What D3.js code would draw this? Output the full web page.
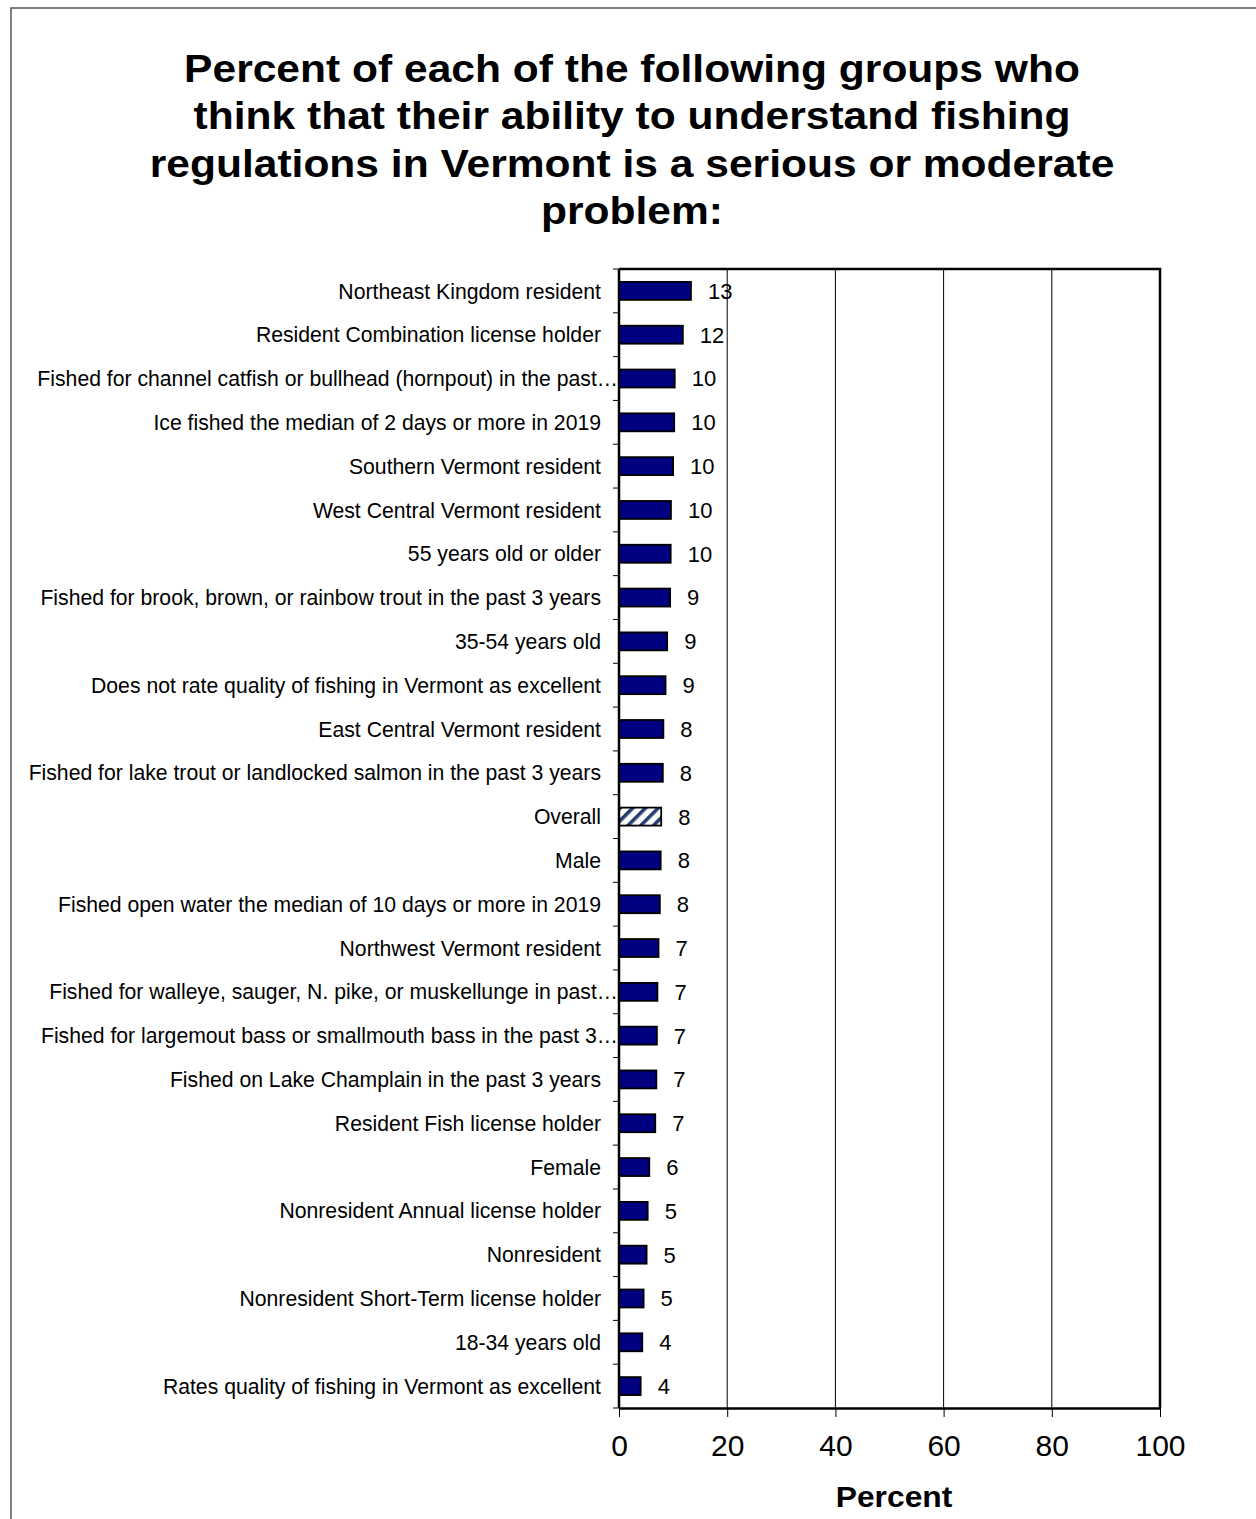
<!DOCTYPE html>
<html>
<head>
<meta charset="utf-8">
<script src="https://cdn.jsdelivr.net/npm/d3@7"></script>
<style>
  html, body { margin: 0; padding: 0; background: #fff; }
  svg { display: block; font-family: "Liberation Sans", Arial, sans-serif; }
</style>
</head>
<body>
<svg id="chart" width="1256" height="1519"></svg>
<script>
// Group labels, top to bottom (long ones are cut off with an ellipsis)
const categories = [
  "Northeast Kingdom resident",
  "Resident Combination license holder",
  "Fished for channel catfish or bullhead (hornpout) in the past\u2026",
  "Ice fished the median of 2 days or more in 2019",
  "Southern Vermont resident",
  "West Central Vermont resident",
  "55 years old or older",
  "Fished for brook, brown, or rainbow trout in the past 3 years",
  "35-54 years old",
  "Does not rate quality of fishing in Vermont as excellent",
  "East Central Vermont resident",
  "Fished for lake trout or landlocked salmon in the past 3 years",
  "Overall",
  "Male",
  "Fished open water the median of 10 days or more in 2019",
  "Northwest Vermont resident",
  "Fished for walleye, sauger, N. pike, or muskellunge in past\u2026",
  "Fished for largemout bass or smallmouth bass in the past 3\u2026",
  "Fished on Lake Champlain in the past 3 years",
  "Resident Fish license holder",
  "Female",
  "Nonresident Annual license holder",
  "Nonresident",
  "Nonresident Short-Term license holder",
  "18-34 years old",
  "Rates quality of fishing in Vermont as excellent"
];

// Percent who see it as a serious or moderate problem
const values = [
  13.3, 11.8, 10.3, 10.2, 10.0, 9.6, 9.55, 9.45, 8.9, 8.6,
  8.2, 8.1, 7.8, 7.7, 7.55, 7.3, 7.1, 7.0, 6.9, 6.7,
  5.6, 5.3, 5.1, 4.55, 4.3, 4.0
];

const xTicks = [0, 20, 40, 60, 80, 100];
const titleLines = [
  "Percent of each of the following groups who",
  "think that their ability to understand fishing",
  "regulations in Vermont is a serious or moderate",
  "problem:"
];
const xAxisTitle = "Percent";
const highlight = "Overall";

const rows = categories.map((c, i) => ({ name: c, value: values[i] }));

const svg = d3.select("#chart");
const plot = { left: 619, right: 1160, top: 269, bottom: 1408 };

// hatch for the overall bar
const defs = svg.append("defs");
const pat = defs.append("pattern")
  .attr("id", "hatch")
  .attr("patternUnits", "userSpaceOnUse")
  .attr("width", 9).attr("height", 9)
  .attr("patternTransform", "rotate(45)");
pat.append("rect").attr("width", 9).attr("height", 9).attr("fill", "#fff");
pat.append("rect").attr("x", 0).attr("width", 3.6).attr("height", 9).attr("fill", "#243f6e");

// outer frame
svg.append("rect")
  .attr("x", 11).attr("y", 8)
  .attr("width", 1300).attr("height", 1600)
  .attr("fill", "none").attr("stroke", "#555").attr("stroke-width", 1.5);

// title, slightly widened
svg.append("g")
  .attr("transform", "translate(632,0) scale(1.12,1)")
  .selectAll("text").data(titleLines).join("text")
  .attr("x", 0)
  .attr("y", (d, i) => 82 + i * 47.5)
  .attr("text-anchor", "middle")
  .attr("font-weight", "bold")
  .attr("font-size", 38)
  .attr("fill", "#000")
  .text(d => d);

const x = d3.scaleLinear().domain([0, 100]).range([plot.left, plot.right]);
const y = d3.scaleBand()
  .domain(categories)
  .range([plot.top, plot.bottom])
  .paddingInner(0.59)
  .paddingOuter(0.295);

// vertical grid lines
svg.append("g").selectAll("line").data(xTicks.filter(t => t > 0 && t < 100)).join("line")
  .attr("x1", d => x(d)).attr("x2", d => x(d))
  .attr("y1", plot.top).attr("y2", plot.bottom)
  .attr("stroke", "#000").attr("stroke-width", 1);

// bars
svg.append("g").selectAll("rect").data(rows).join("rect")
  .attr("x", x(0))
  .attr("y", d => y(d.name))
  .attr("width", d => x(d.value) - x(0))
  .attr("height", y.bandwidth())
  .attr("fill", d => d.name === highlight ? "url(#hatch)" : "#000080")
  .attr("stroke", "#000")
  .attr("stroke-width", 1.8);

// value labels
svg.append("g").selectAll("text").data(rows).join("text")
  .attr("x", d => x(d.value) + 17)
  .attr("y", d => y(d.name) + y.bandwidth() / 2)
  .attr("dy", "0.36em")
  .attr("font-size", 22)
  .attr("fill", "#000")
  .text(d => d3.format(".0f")(d.value));

// category labels
svg.append("g").selectAll("text").data(rows).join("text")
  .attr("x", d => d.name.endsWith("\u2026") ? 618 : 601)
  .attr("y", d => y(d.name) + y.bandwidth() / 2)
  .attr("dy", "0.36em")
  .attr("text-anchor", "end")
  .attr("font-size", 21.2)
  .attr("fill", "#000")
  .text(d => d.name);

// y-axis ticks between the groups
const step = y.step();
svg.append("g").selectAll("line").data(d3.range(categories.length + 1)).join("line")
  .attr("x1", plot.left - 6).attr("x2", plot.left)
  .attr("y1", i => plot.top + i * step).attr("y2", i => plot.top + i * step)
  .attr("stroke", "#000").attr("stroke-width", 1);

// plot frame: top and right
svg.append("path")
  .attr("d", `M${plot.left},${plot.top}H${plot.right}V${plot.bottom}`)
  .attr("fill", "none").attr("stroke", "#000").attr("stroke-width", 2.5);

// left axis line
svg.append("line")
  .attr("x1", plot.left).attr("x2", plot.left)
  .attr("y1", plot.top).attr("y2", plot.bottom)
  .attr("stroke", "#000").attr("stroke-width", 2.5);

// bottom axis
const xAxis = svg.append("g")
  .attr("transform", `translate(0,${plot.bottom})`)
  .call(d3.axisBottom(x).tickValues(xTicks).tickSize(9).tickPadding(18).tickSizeOuter(0));
xAxis.select(".domain").attr("stroke", "#000").attr("stroke-width", 2.5);
xAxis.selectAll(".tick line").attr("stroke", "#000").attr("stroke-width", 1);
xAxis.selectAll(".tick text")
  .attr("font-family", "'Liberation Sans', Arial, sans-serif")
  .attr("font-size", 30).attr("fill", "#000");

svg.append("text")
  .attr("transform", "translate(894,1507) scale(1.06,1)")
  .attr("text-anchor", "middle")
  .attr("font-weight", "bold")
  .attr("font-size", 30)
  .attr("fill", "#000")
  .text(xAxisTitle);
</script>
</body>
</html>
